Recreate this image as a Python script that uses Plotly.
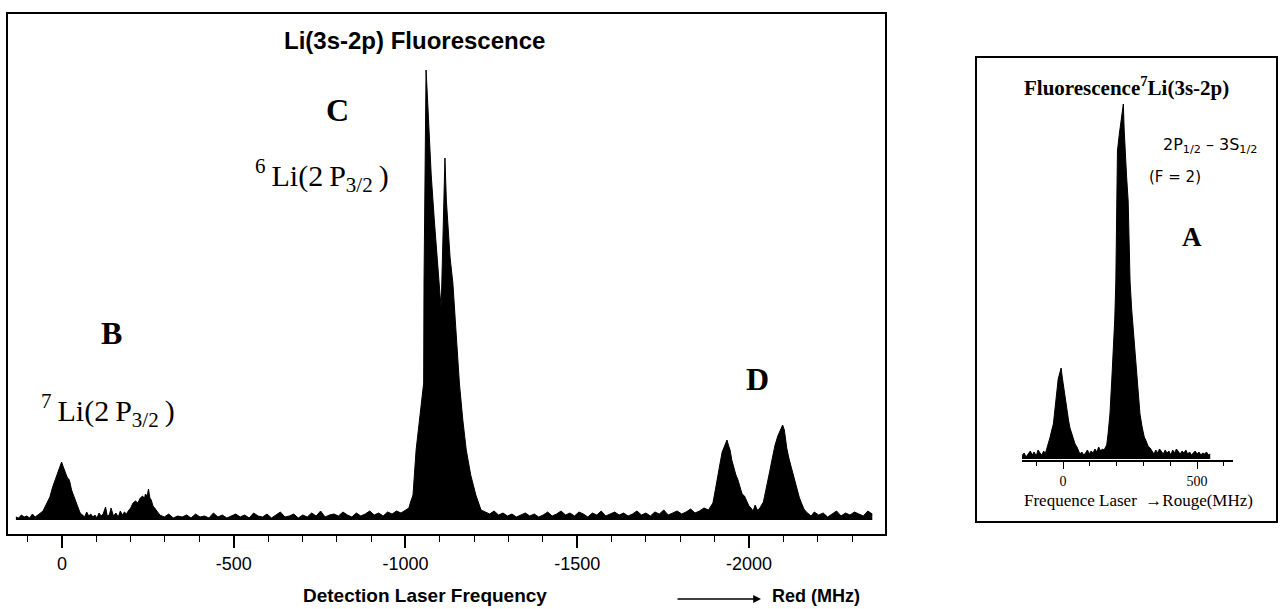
import plotly.graph_objects as go

W, H = 1285, 609

# ---------------- data: main spectrum (MHz, intensity in arbitrary units) ----------------
main_freq = [
    134, 126, 118, 110, 102, 94, 86, 78, 70, 62,
    55, 48, 40, 35, 28, 20, 14, 8, 4, 1, -3, -7, -12, -16, -20, -23, -28, -35, -42, -48, -53,
    -60, -66, -72, -78, -84, -90, -96, -102, -108, -114, -120, -127, -132, -138, -143, -150,
    -157, -164, -170, -176, -182, -188,
    -193, -200, -207, -214, -221, -228, -235, -240, -243, -248, -252, -256, -260, -265, -270, -278,
    -285, -298, -311, -324, -337, -350, -363, -376, -389, -402, -415, -428, -441, -454, -467,
    -480, -493, -506, -519, -532, -545, -558, -571, -584, -597, -610, -623, -636, -649, -662,
    -675, -688, -701, -714, -727, -740, -753, -766, -779, -792, -805, -818, -831, -844, -857,
    -870, -883, -896, -909, -922, -935, -948, -961, -974, -987,
    -1001, -1010, -1015, -1022, -1031, -1038, -1045, -1050, -1053, -1054, -1056, -1058, -1060,
    -1063, -1068, -1075, -1084, -1094, -1100, -1104, -1108, -1112, -1115, -1119, -1125, -1130,
    -1138, -1148, -1157, -1167, -1177, -1190, -1205, -1220,
    -1232, -1245, -1258, -1271, -1284, -1297, -1310, -1323, -1336, -1349, -1362, -1375, -1388,
    -1401, -1414, -1427, -1440, -1453, -1466, -1479, -1492, -1505, -1518, -1531, -1544, -1557,
    -1570, -1583, -1596, -1609, -1622, -1635, -1648, -1661, -1674, -1687, -1700, -1713, -1726,
    -1739, -1752, -1765, -1778, -1791, -1804, -1817, -1830, -1843, -1856, -1869, -1882,
    -1895, -1901, -1908, -1915, -1922, -1930, -1936, -1941, -1945, -1950, -1956, -1962, -1968,
    -1974, -1980, -1987, -1993, -2000, -2006, -2012, -2018, -2024, -2030, -2036, -2042, -2048,
    -2053, -2060, -2068, -2076, -2084, -2092, -2098, -2103, -2106, -2110, -2116, -2122, -2128,
    -2134, -2140, -2147, -2154, -2160, -2167, -2174, -2181,
    -2190, -2203, -2216, -2229, -2242, -2255, -2268, -2281, -2294, -2307, -2320, -2333, -2346,
    -2359, -2370, -2377,
]
main_counts = [
    3, 2, 5, 3, 4, 2, 6, 3, 5, 7,
    9, 14, 20, 23, 32, 40, 46, 52, 55, 58, 54, 50, 44, 42, 41, 38, 30, 23, 16, 11, 7,
    5, 3, 8, 4, 6, 3, 5, 2, 7, 4, 6, 13, 4, 5, 12, 4,
    7, 3, 9, 5, 8, 6,
    9, 12, 17, 19, 17, 22, 24, 21, 26, 24, 31, 22, 20, 14, 12, 8,
    5, 3, 6, 2, 4, 3, 5, 2, 6, 3, 4, 2, 7, 3, 5,
    2, 4, 6, 3, 5, 2, 7, 4, 3, 6, 2, 5, 8, 3, 4,
    6, 2, 5, 3, 7, 4, 9, 3, 5, 6, 4, 8, 5, 3, 7,
    4, 6, 9, 5, 7, 4, 8, 6, 9, 7,
    10, 12, 18, 25, 70, 90, 110, 125, 137, 237, 300, 380, 450,
    430, 390, 345, 300, 250, 228, 212, 262, 330, 362, 320, 282, 262,
    237, 185, 137, 100, 70, 45, 25, 10,
    8, 6, 9, 5, 7, 4, 6, 3, 5, 7, 4, 6, 3,
    5, 8, 4, 6, 9, 5, 7, 4, 8, 6, 3, 7,
    5, 9, 4, 6, 8, 5, 7, 4, 6, 9, 5, 7, 4,
    8, 6, 10, 5, 7, 9, 6, 8, 11, 7, 9, 12,
    10, 17, 28, 40, 55, 68, 74, 80, 74, 70, 60, 52, 45,
    40, 32, 26, 24, 20, 14, 12, 9, 15, 10, 11, 14,
    18, 28, 38, 48, 62, 75, 84, 90, 95, 90, 82, 72, 62,
    54, 47, 38, 30, 22, 16, 11, 8,
    6, 4, 8, 5, 7, 3, 6, 9, 4, 7, 5, 8, 6,
    4, 9, 6,
]

# ---------------- data: inset spectrum (7Li, 2P1/2 - 3S1/2) ----------------
inset_freq = [
    -154, -145, -138, -130, -122, -115, -108, -100, -93, -86, -79, -72, -67,
    -62, -55, -48, -41, -36, -30, -24, -18, -12, -7, -3, 2, 6, 11, 16, 21, 26, 32, 38, 45, 52, 58, 63,
    70, 77, 84, 91, 98, 105, 112, 119, 126, 133, 140, 147, 153,
    158, 163, 168, 175, 182, 188, 193, 197, 200, 203, 210, 217, 222, 225, 228, 231, 237, 243, 247, 250,
    256, 262, 269, 276, 281, 287, 295, 303, 310, 317, 325,
    332, 339, 346, 353, 360, 367, 374, 381, 388, 395, 402, 409, 416, 423, 430, 437, 444, 451, 458,
    465, 472, 479, 486, 493, 500, 507, 514, 521, 528, 535, 542, 549,
]
inset_counts = [
    3, 6, 2, 5, 8, 4, 7, 3, 9, 6, 4, 8, 5,
    9, 15, 22, 30, 35, 50, 68, 80, 86, 91, 82, 72, 66, 58, 47, 38, 31, 26, 20, 15, 12, 8, 5,
    7, 4, 6, 9, 5, 8, 6, 10, 7, 12, 8, 10, 9,
    12, 14, 25, 45, 80, 111, 140, 178, 258, 308, 325, 340, 352, 355, 330, 308, 283, 258, 215, 178,
    150, 128, 111, 85, 62, 45, 32, 22, 18, 13, 11,
    8, 5, 9, 6, 10, 7, 5, 9, 6, 8, 4, 9, 6, 10, 7, 5, 8, 6, 9,
    5, 7, 4, 6, 8, 5, 7, 4, 6, 5, 7, 4, 5,
]

main_tickvals = [0, -500, -1000, -1500, -2000]
main_ticktext = ["0", "-500", "-1000", "-1500", "-2000"]
inset_tickvals = [0, 500]
inset_ticktext = ["0", "500"]


def px(x):
    return x / W


def py(y):
    return 1 - y / H


SANS = "Liberation Sans"
SERIF = "Liberation Serif"
THIN = "\u2009"

fig = go.Figure()

fig.add_trace(go.Scatter(
    x=main_freq, y=main_counts, mode="lines",
    line=dict(color="black", width=1), fill="tozeroy", fillcolor="black",
    xaxis="x", yaxis="y", showlegend=False, hoverinfo="skip",
))
fig.add_trace(go.Scatter(
    x=inset_freq, y=inset_counts, mode="lines",
    line=dict(color="black", width=1), fill="tozeroy", fillcolor="black",
    xaxis="x2", yaxis="y2", showlegend=False, hoverinfo="skip",
))

fig.update_layout(
    width=W, height=H,
    margin=dict(l=0, r=0, t=0, b=0),
    paper_bgcolor="white", plot_bgcolor="white",
    showlegend=False,
    xaxis=dict(
        domain=[px(8), px(885)], range=[157, -2396], anchor="y",
        showline=True, mirror=True, linecolor="black", linewidth=2,
        showgrid=False, zeroline=False,
        tickmode="array", tickvals=main_tickvals, ticktext=main_ticktext,
        ticks="outside", ticklen=12, tickwidth=1.5, tickcolor="black",
        tickfont=dict(family=SANS, size=18, color="black"),
        minor=dict(dtick=100, tick0=0, ticks="outside", ticklen=6, tickwidth=1.2, tickcolor="black"),
    ),
    yaxis=dict(
        domain=[py(534), py(14)], range=[-14, 506], anchor="x",
        showline=True, mirror=True, linecolor="black", linewidth=2,
        showgrid=False, zeroline=False, showticklabels=False, ticks="",
    ),
    xaxis2=dict(
        domain=[px(1022), px(1233)], range=[-153, 634], anchor="y2",
        showline=True, mirror=False, linecolor="black", linewidth=1.5,
        showgrid=False, zeroline=False,
        tickmode="array", tickvals=inset_tickvals, ticktext=inset_ticktext,
        ticks="outside", ticklen=7, tickwidth=1.2, tickcolor="black",
        tickfont=dict(family=SERIF, size=14, color="black"),
        minor=dict(dtick=100, tick0=0, ticks="outside", ticklen=4, tickwidth=1, tickcolor="black"),
    ),
    yaxis2=dict(
        domain=[py(460), py(95)], range=[-1, 364], anchor="x2",
        visible=False, showgrid=False, zeroline=False,
    ),
)

# inset frame
fig.add_shape(type="rect", xref="paper", yref="paper",
              x0=px(976), x1=px(1277), y0=py(522), y1=py(57),
              line=dict(color="black", width=2), fillcolor="rgba(0,0,0,0)")


def note(text, x, y, size, family=SANS, xanchor="center"):
    fig.add_annotation(text=text, xref="paper", yref="paper", x=px(x), y=py(y),
                       xanchor=xanchor, yanchor="middle", showarrow=False,
                       font=dict(family=family, size=size, color="black"))


# main panel texts
note("<b>Li(3s-2p) Fluorescence</b>", 414, 40, 24)
note("<b>C</b>", 337, 110, 32, SERIF)
note("<sup>6</sup>" + THIN + "Li(2" + THIN + "P<sub>3/2</sub>" + THIN + ")", 322, 175, 30, SERIF)
note("<b>B</b>", 111, 333, 32, SERIF)
note("<sup>7</sup>" + THIN + "Li(2" + THIN + "P<sub>3/2</sub>" + THIN + ")", 108, 410, 30, SERIF)
note("<b>D</b>", 757, 379, 32, SERIF)
note("<b>Detection Laser Frequency</b>", 425, 595, 19)
note("<b>Red (MHz)</b>", 770, 596, 18, xanchor="left")
fig.add_annotation(x=px(761), y=py(599), ax=-85, ay=0, xref="paper", yref="paper",
                   text="", showarrow=True, arrowhead=2, arrowsize=1.2, arrowwidth=1.3,
                   arrowcolor="black")

# inset texts
note("<b>Fluorescence<sup>7</sup>Li(3s-2p)</b>", 1126, 87, 21, SERIF)
note("2P<sub>1/2</sub> – 3S<sub>1/2</sub>", 1210, 145, 16, "DejaVu Sans")
note("(F = 2)", 1175, 177, 15, "DejaVu Sans")
note("<b>A</b>", 1192, 237, 27, SERIF)
note("Frequence Laser  →Rouge(MHz)", 1138, 500, 17, SERIF)

fig.write_html(
    "out.html",
    config={"displayModeBar": False},
    post_script="document.body.style.margin='0';document.body.style.overflow='hidden';",
)
